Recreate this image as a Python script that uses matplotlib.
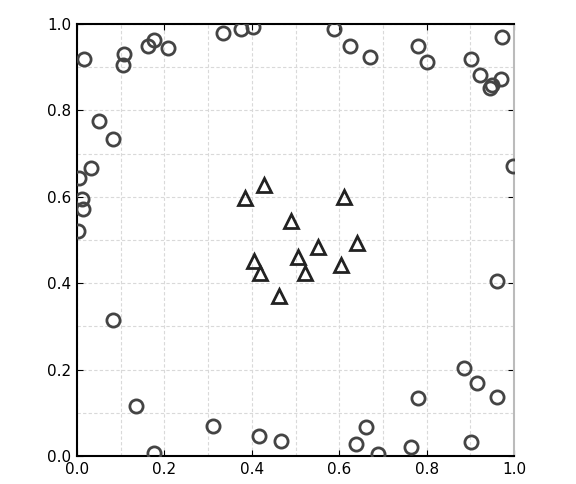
import matplotlib.pyplot as plt
import numpy as np

# outer ring points (circles)
circle_x = [0.015, 0.108, 0.105, 0.162, 0.176, 0.209, 0.334, 0.375, 0.402,
            0.051, 0.083, 0.031, 0.004, 0.011, 0.013, 0.002,
            0.588, 0.625, 0.670, 0.780, 0.801, 0.902, 0.922, 0.945, 0.949,
            0.970, 0.973, 0.998,
            0.083, 0.134, 0.177, 0.312, 0.417, 0.466,
            0.960, 0.886, 0.915, 0.960, 0.780, 0.662, 0.638, 0.689, 0.764, 0.902]
circle_y = [0.919, 0.930, 0.905, 0.949, 0.963, 0.944, 0.979, 0.988, 0.993,
            0.775, 0.733, 0.666, 0.643, 0.595, 0.572, 0.521,
            0.988, 0.949, 0.923, 0.949, 0.911, 0.919, 0.882, 0.852, 0.858,
            0.873, 0.970, 0.671,
            0.315, 0.116, 0.006, 0.069, 0.046, 0.035,
            0.405, 0.204, 0.169, 0.137, 0.134, 0.068, 0.028, 0.005, 0.020, 0.032]

# inner cluster (triangles)
tri_x = [0.384, 0.428, 0.490, 0.611, 0.641, 0.551, 0.506, 0.522, 0.604, 0.405, 0.419, 0.462]
tri_y = [0.597, 0.627, 0.544, 0.600, 0.493, 0.484, 0.461, 0.424, 0.442, 0.451, 0.423, 0.370]

fig = plt.figure(figsize=(5.76, 4.84), dpi=100)
ax = fig.add_axes([77 / 576, 1 - 456 / 484, 437 / 576, 432 / 484])

ax.plot(circle_x, circle_y, 'o', markersize=9.5, markerfacecolor='none',
        markeredgecolor='#444444', markeredgewidth=2, zorder=3)
ax.plot(tri_x, tri_y, '^', markersize=9.5, markerfacecolor='none',
        markeredgecolor='#222222', markeredgewidth=2, zorder=3)

ax.set_xlim(0, 1)
ax.set_ylim(0, 1)
ax.set_xticks(np.arange(0, 1.01, 0.2))
ax.set_yticks(np.arange(0, 1.01, 0.2))
ax.set_xticks(np.arange(0, 1.01, 0.1), minor=True)
ax.set_yticks(np.arange(0, 1.01, 0.1), minor=True)
ax.grid(True, which='both', color='#d9d9d9', linestyle='--', linewidth=0.8,
        dashes=(3, 2))
ax.set_axisbelow(True)

ax.tick_params(which='major', direction='in', length=4, top=True, right=True,
               labelsize=11, pad=4)
ax.tick_params(which='minor', length=0)
ax.set_xticklabels(['0.0', '0.2', '0.4', '0.6', '0.8', '1.0'])
ax.set_yticklabels(['0.0', '0.2', '0.4', '0.6', '0.8', '1.0'])

for side in ['left', 'bottom', 'top']:
    ax.spines[side].set_color('black')
    ax.spines[side].set_linewidth(1.5)
ax.spines['right'].set_color('#bbbbbb')
ax.spines['right'].set_linewidth(1.5)

fig.savefig('out.png', dpi=100)
